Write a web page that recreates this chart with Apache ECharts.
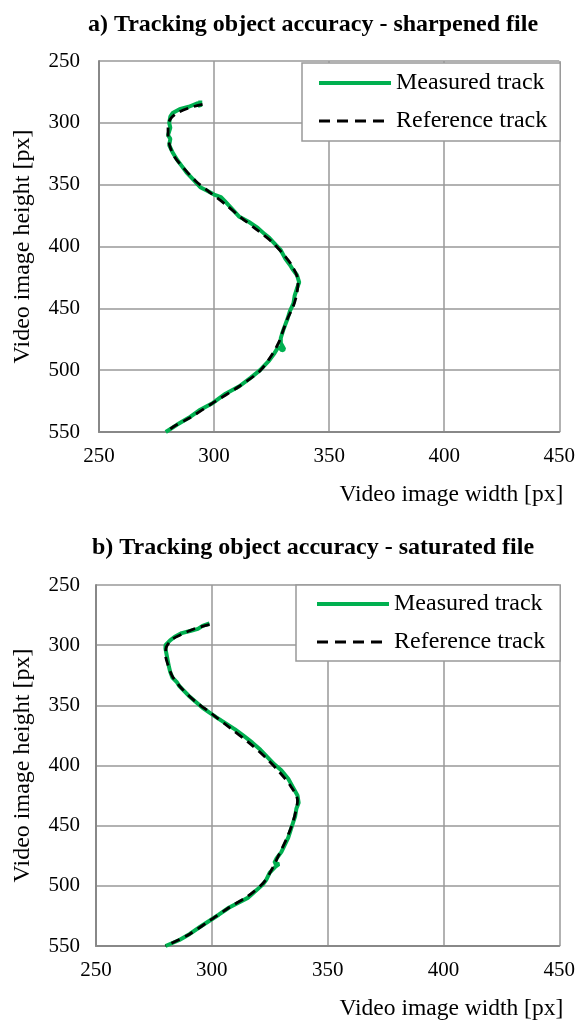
<!DOCTYPE html>
<html>
<head>
<meta charset="utf-8">
<script src="https://cdn.jsdelivr.net/npm/echarts@6/dist/echarts.min.js"></script>
<style>
  html, body { margin: 0; padding: 0; background: #fff; }
  #main { width: 578px; height: 1027px; }
</style>
</head>
<body>
<div id="main"></div>
<script>
// a) sharpened file, points as [width px, height px]
var sharpMeasured = [
  [294,282],[294,287],[293,284],[289,287],[285,289],[282,292],[281,295],[280.5,300],
  [281,304],[280,310],[281,313],[280.5,318],[282,324],[284,330],[286,335],[288,340],
  [291,346],[294,352],[297,355],[300,358],[303,360],[305,364],[307,368],[309,372],
  [311,376],[315,380],[319,385],[322,390],[324,393],[326,397],[329,403],[331,410],
  [333,415],[334,418],[336,423],[337,429],[336,434],[335,440],[334.5,446],[333,452],
  [332,458],[331,463],[330,468],[329,474],[329,478],[330.5,483],[329.5,484],[328,481],
  [326,487],[324,492],[320,500],[316,506],[311,513],[305,519],[299.5,526.5],[294,532],
  [289,538.5],[284,544],[279,550]
];
var sharpReference = [
  [295,285],[289,288],[284,292],[281,297],[280,303],[280,311],[281,320],[283,328],
  [287,337],[292,347],[298,356],[305,366],[312,377],[319,387],[325,396],[330,406],
  [334,416],[336.5,428],[336,438],[334.5,448],[332,458],[330,468],[328,478],[325,488],
  [320,500.5],[311,513],[299.5,526.5],[289.5,538.5],[283,545],[279,550]
];
// b) saturated file
var satMeasured = [
  [299,282],[296,284],[294,286.5],[291,288],[287,290],[284,293],[282,296],[280,300],
  [280,303],[280.5,308],[281,313],[281.5,318],[282,322],[283,327],[285,331],[286,334],
  [288,338],[290,342],[293,347],[296,352],[299,356],[302,360],[306,365],[310,370],
  [313.5,375],[317.5,381],[321,387],[324,393],[327,399],[330,404],[333,411],[335,418],
  [337,425],[337.5,431],[336.5,436],[336,442],[335,448],[334,454],[333,460],[331.5,466],
  [330,472],[328,477],[327,481],[329,482],[327.5,484],[325,489],[323.5,495],[322,499],
  [318.5,505],[315.5,510],[311.5,514],[307.5,518],[303,524],[299,529],[295,534],[290.5,540],
  [286,545],[280,550]
];
var satReference = [
  [299,283],[293,286],[287,291],[283,295],[280.5,301],[280,308],[281,316],[283,326],
  [287,336],[293,347],[300,357],[308,369],[316,381],[323,393],[329,405],[334,417],
  [337,429],[336,440],[334.5,450],[332,462],[329,474],[326,486],[322.5,497],[316,508],
  [307.5,518],[299,529],[290.5,540],[280,550]
];
var titles = ['a) Tracking object accuracy - sharpened file', 'b) Tracking object accuracy - saturated file'];
var seriesNames = ['Measured track', 'Reference track'];

var serif = '"Liberation Serif", "Times New Roman", serif';
var gridColor = '#999999';
var green = '#00B050';

function xAxisOf(i) {
  return {
    gridIndex: i, type: 'value', min: 250, max: 450, interval: 50,
    name: 'Video image width [px]', nameLocation: 'end', nameGap: 4,
    nameTextStyle: { fontFamily: serif, fontSize: 23.5, color: '#000', align: 'right', verticalAlign: 'top', padding: [51, 0, 0, 0] },
    axisLine: { lineStyle: { color: '#888', width: 2 } },
    axisTick: { show: false },
    axisLabel: { fontFamily: serif, fontSize: 21, color: '#000', margin: 14 },
    splitLine: { lineStyle: { color: gridColor, width: 1.5 } }
  };
}
function yAxisOf(i, gap, margin) {
  return {
    gridIndex: i, type: 'value', min: 250, max: 550, interval: 50, inverse: true,
    name: 'Video image height [px]', nameLocation: 'middle', nameGap: gap,
    nameTextStyle: { fontFamily: serif, fontSize: 24, color: '#000' },
    axisLine: { show: true, lineStyle: { color: '#888', width: 2 } },
    axisTick: { show: false },
    axisLabel: { fontFamily: serif, fontSize: 21, color: '#000', margin: margin },
    splitLine: { lineStyle: { color: gridColor, width: 1.5 } }
  };
}
function legendOf(left, top, padding) {
  return {
    data: [
      { name: seriesNames[0], lineStyle: { color: green, width: 4 } },
      { name: seriesNames[1], lineStyle: { color: '#000', width: 3, type: [11, 7] } }
    ],
    orient: 'vertical', left: left, top: top,
    itemWidth: 72, itemHeight: 14, itemGap: 14,
    padding: padding,
    itemStyle: { opacity: 0 },
    backgroundColor: '#fff', borderColor: '#999', borderWidth: 1.5,
    textStyle: { fontFamily: serif, fontSize: 24, color: '#000' }
  };
}
function measured(i, data) {
  return { name: seriesNames[0], type: 'line', xAxisIndex: i, yAxisIndex: i, data: data,
    symbol: 'none', lineStyle: { color: green, width: 4 }, itemStyle: { color: green }, z: 2 };
}
function reference(i, data) {
  return { name: seriesNames[1], type: 'line', xAxisIndex: i, yAxisIndex: i, data: data,
    symbol: 'none', smooth: 0.3, lineStyle: { color: '#000', width: 2.8, type: [9, 6] }, itemStyle: { color: '#000' }, z: 3 };
}

var option = {
  backgroundColor: '#fff',
  animation: false,
  title: [
    { text: titles[0], left: 308, top: 8, textAlign: 'center',
      textStyle: { fontFamily: serif, fontSize: 24, fontWeight: 'bold', color: '#000' } },
    { text: titles[1], left: 308, top: 531, textAlign: 'center',
      textStyle: { fontFamily: serif, fontSize: 24, fontWeight: 'bold', color: '#000' } }
  ],
  legend: [legendOf(302, 63, [8, 13, 8, 15]), legendOf(296, 585, [7, 15, 7, 19])],
  grid: [
    { left: 99, right: 18, top: 61, height: 371 },
    { left: 96, right: 18, top: 585, height: 361 }
  ],
  xAxis: [xAxisOf(0), xAxisOf(1)],
  yAxis: [yAxisOf(0, 64, 19), yAxisOf(1, 61, 16)],
  series: [
    measured(0, sharpMeasured), reference(0, sharpReference),
    measured(1, satMeasured), reference(1, satReference)
  ]
};
var myChart = echarts.init(document.getElementById('main'));
myChart.setOption(option);
</script>
</body>
</html>
